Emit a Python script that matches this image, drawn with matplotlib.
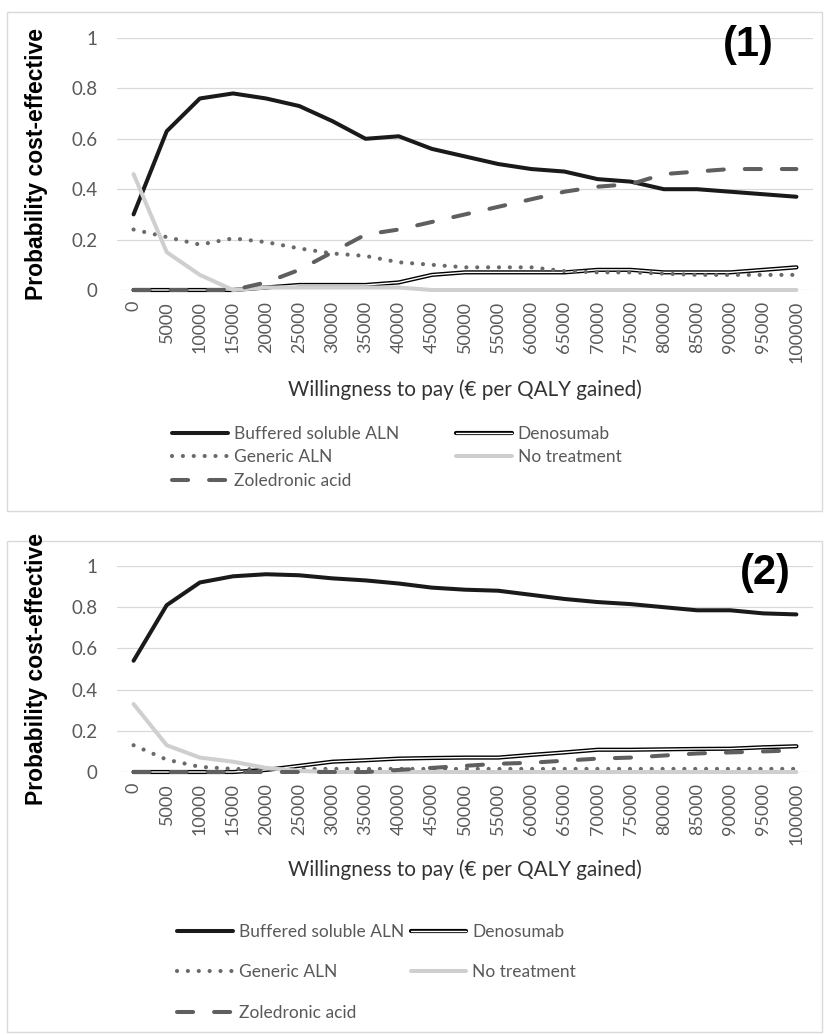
import matplotlib
matplotlib.use("Agg")
import matplotlib.pyplot as plt
import matplotlib.patheffects as pe
from matplotlib.patches import Rectangle

# x categories (willingness to pay, EUR per QALY)
wtp = list(range(0, 100001, 5000))
wtp_labels = [str(v) for v in wtp]
y_ticks = [0, 0.2, 0.4, 0.6, 0.8, 1]
y_tick_labels = ["0", "0.2", "0.4", "0.6", "0.8", "1"]

# Panel (1)
buffered_1 = [0.30, 0.63, 0.76, 0.78, 0.76, 0.73, 0.67, 0.60, 0.61, 0.56, 0.53,
              0.50, 0.48, 0.47, 0.44, 0.43, 0.40, 0.40, 0.39, 0.38, 0.37]
denosumab_1 = [0, 0, 0, 0, 0.01, 0.02, 0.02, 0.02, 0.03, 0.06, 0.07,
               0.07, 0.07, 0.07, 0.08, 0.08, 0.07, 0.07, 0.07, 0.08, 0.09]
generic_1 = [0.24, 0.21, 0.18, 0.205, 0.19, 0.165, 0.145, 0.135, 0.11, 0.10, 0.09,
             0.09, 0.09, 0.075, 0.07, 0.07, 0.065, 0.06, 0.06, 0.06, 0.06]
no_treat_1 = [0.46, 0.15, 0.06, 0.0, 0.01, 0.01, 0.01, 0.01, 0.01, 0, 0,
              0, 0, 0, 0, 0, 0, 0, 0, 0, 0]
zoledronic_1 = [0, 0, 0, 0, 0.03, 0.08, 0.15, 0.22, 0.24, 0.27, 0.30,
                0.33, 0.36, 0.39, 0.41, 0.42, 0.46, 0.47, 0.48, 0.48, 0.48]

# Panel (2)
buffered_2 = [0.54, 0.81, 0.92, 0.95, 0.96, 0.955, 0.94, 0.93, 0.915, 0.895, 0.885,
              0.88, 0.86, 0.84, 0.825, 0.815, 0.80, 0.785, 0.785, 0.77, 0.765]
denosumab_2 = [0, 0, 0, 0, 0.01, 0.03, 0.05, 0.057, 0.065, 0.068, 0.07,
               0.07, 0.083, 0.095, 0.108, 0.108, 0.11, 0.112, 0.113, 0.12, 0.125]
generic_2 = [0.13, 0.06, 0.025, 0.015, 0.012, 0.015, 0.015, 0.015, 0.015, 0.015, 0.015,
             0.015, 0.015, 0.015, 0.015, 0.015, 0.015, 0.015, 0.015, 0.015, 0.015]
no_treat_2 = [0.33, 0.13, 0.07, 0.05, 0.02, 0.005, 0, 0, 0, 0, 0,
              0, 0, 0, 0, 0, 0, 0, 0, 0, 0]
zoledronic_2 = [0, 0, 0, 0, 0, 0, 0, 0, 0.01, 0.02, 0.03,
                0.04, 0.045, 0.055, 0.065, 0.07, 0.08, 0.09, 0.095, 0.10, 0.105]

W, H = 826, 1035
FONT = "Lato"
GRAY_TXT = "#595959"


def fx(px):
    return px / W


def fy(py):
    return 1 - py / H


def draw_panel(fig, top, bottom, series, tag, tag_xy, title_y, leg_xy, leg_opts):
    ax = fig.add_axes([fx(117), fy(bottom), fx(813) - fx(117), fy(top) - fy(bottom)])
    x = list(range(len(wtp)))
    buffered, denosumab, generic, no_treat, zoledronic = series

    lines = {}
    lines["Buffered soluble ALN"], = ax.plot(x, buffered, color="#1a1a1a", lw=2.9,
                                             solid_capstyle="round", solid_joinstyle="round",
                                             clip_on=False, zorder=3)
    lines["Denosumab"], = ax.plot(x, denosumab, color="white", lw=1.0, clip_on=False, zorder=4,
                                  solid_capstyle="round",
                                  path_effects=[pe.Stroke(linewidth=3.0, foreground="black",
                                                          capstyle="round"), pe.Normal()])
    lines["Generic ALN"], = ax.plot(x, generic, color="#6a6a6a", lw=3.0, linestyle=(0, (0.01, 2.6)),
                                    dash_capstyle="round", clip_on=False, zorder=5)
    lines["No treatment"], = ax.plot(x, no_treat, color="#cfcfcf", lw=2.9, solid_capstyle="round",
                                     clip_on=False, zorder=6)
    lines["Zoledronic acid"], = ax.plot(x, zoledronic, color="#5f5f5f", lw=2.9,
                                        linestyle=(0, (4, 5.2)), dash_capstyle="round",
                                        clip_on=False, zorder=7)

    ax.set_xlim(-0.5, len(wtp) - 0.5)
    ax.set_ylim(0, 1)
    ax.set_xticks(x)
    ax.set_xticklabels(wtp_labels, rotation=90, fontsize=13, color=GRAY_TXT, family=FONT)
    ax.set_yticks(y_ticks)
    ax.set_yticklabels(y_tick_labels, fontsize=13.5, color=GRAY_TXT, family=FONT)
    ax.tick_params(axis="x", length=0, pad=8)
    ax.tick_params(axis="y", length=0, pad=14)
    ax.grid(axis="y", color="#d9d9d9", lw=0.9)
    ax.set_axisbelow(True)
    for s in ax.spines.values():
        s.set_visible(False)

    fig.text(fx(37), fy((top + bottom) / 2), "Probability cost-effective", rotation=90,
             ha="center", va="center", fontsize=16.5, fontweight="bold", family="Liberation Sans")
    fig.text(fx(tag_xy[0]), fy(tag_xy[1]), tag, ha="center", va="center", fontsize=30,
             fontweight="bold", family="Liberation Sans")
    fig.text(fx(465), fy(title_y), "Willingness to pay (\u20ac per QALY gained)", ha="center",
             va="center", fontsize=14.9, color="#333333", family=FONT)

    order = ["Buffered soluble ALN", "Generic ALN", "Zoledronic acid", "Denosumab", "No treatment"]
    leg = fig.legend([lines[n] for n in order], order, loc="upper left",
                     bbox_to_anchor=(fx(leg_xy[0]), fy(leg_xy[1])), ncol=2, frameon=False,
                     borderpad=0, borderaxespad=0, handlelength=3.2, handletextpad=0.35,
                     prop={"family": FONT, "size": 12.5}, **leg_opts)
    for t in leg.get_texts():
        t.set_color(GRAY_TXT)
    return ax


fig = plt.figure(figsize=(W / 100, H / 100), dpi=100)

# panel frames
for y0, y1 in [(12, 511), (541, 1032)]:
    fig.patches.append(Rectangle((fx(7), fy(y1)), fx(822) - fx(7), fy(y0) - fy(y1),
                                 transform=fig.transFigure, fill=False, edgecolor="#d9d9d9", lw=1))

draw_panel(fig, 38, 290, [buffered_1, denosumab_1, generic_1, no_treat_1, zoledronic_1],
           "(1)", (748, 45), 390, (172, 426), {"labelspacing": 0.42, "columnspacing": 3.3})
draw_panel(fig, 566, 772, [buffered_2, denosumab_2, generic_2, no_treat_2, zoledronic_2],
           "(2)", (765, 573), 870, (177, 924), {"labelspacing": 1.4, "columnspacing": 0.4})

fig.savefig("out.png", dpi=100)
